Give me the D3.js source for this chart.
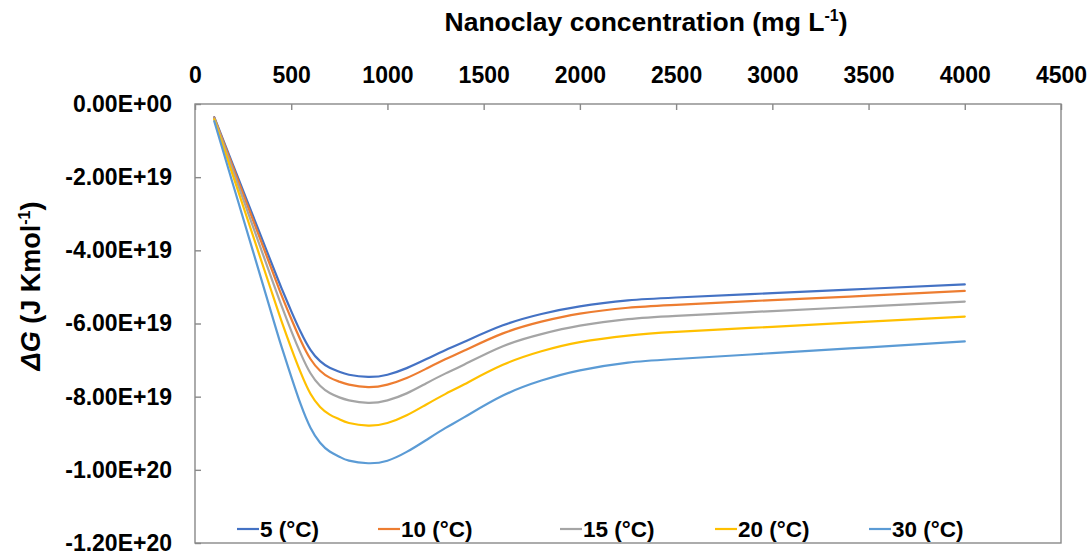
<!DOCTYPE html>
<html>
<head>
<meta charset="utf-8">
<script src="https://cdn.jsdelivr.net/npm/d3@7"></script>
<style>
  html, body { margin: 0; padding: 0; background: #fff; }
  svg text { font-family: "Liberation Sans", Arial, sans-serif; font-weight: bold; fill: #000; }
</style>
</head>
<body>
<svg id="chart" width="1091" height="554"></svg>
<script>
// Nanoclay concentration (mg/L) at which ΔG was evaluated
const concentration = [100, 200, 300, 400, 450, 500, 550, 600, 650, 700, 750, 800, 900, 1000, 1100, 1200, 1300, 1400, 1600, 1800, 2000, 2250, 2500, 3000, 3500, 4000];

// ΔG (J/kmol) for each temperature
const dG_5C  = [-0.36e19, -1.70e19, -3.04e19, -4.38e19, -5.04e19, -5.66e19, -6.24e19, -6.72e19, -7.03e19, -7.21e19, -7.32e19, -7.40e19, -7.46e19, -7.40e19, -7.22e19, -6.98e19, -6.73e19, -6.50e19, -6.05e19, -5.74e19, -5.53e19, -5.37e19, -5.29e19, -5.17e19, -5.05e19, -4.93e19];
const dG_10C = [-0.37e19, -1.76e19, -3.15e19, -4.54e19, -5.23e19, -5.87e19, -6.47e19, -6.97e19, -7.29e19, -7.48e19, -7.59e19, -7.67e19, -7.74e19, -7.67e19, -7.49e19, -7.24e19, -6.98e19, -6.74e19, -6.27e19, -5.95e19, -5.73e19, -5.57e19, -5.49e19, -5.36e19, -5.24e19, -5.11e19];
const dG_15C = [-0.39e19, -1.86e19, -3.33e19, -4.80e19, -5.52e19, -6.20e19, -6.83e19, -7.36e19, -7.70e19, -7.90e19, -8.02e19, -8.10e19, -8.17e19, -8.10e19, -7.91e19, -7.64e19, -7.37e19, -7.12e19, -6.62e19, -6.29e19, -6.06e19, -5.88e19, -5.79e19, -5.66e19, -5.53e19, -5.40e19];
const dG_20C = [-0.42e19, -2.00e19, -3.58e19, -5.16e19, -5.94e19, -6.67e19, -7.35e19, -7.92e19, -8.28e19, -8.49e19, -8.62e19, -8.72e19, -8.79e19, -8.72e19, -8.51e19, -8.22e19, -7.93e19, -7.66e19, -7.13e19, -6.76e19, -6.51e19, -6.33e19, -6.23e19, -6.09e19, -5.95e19, -5.81e19];
const dG_30C = [-0.47e19, -2.24e19, -4.00e19, -5.77e19, -6.64e19, -7.45e19, -8.22e19, -8.85e19, -9.26e19, -9.50e19, -9.64e19, -9.75e19, -9.82e19, -9.75e19, -9.51e19, -9.19e19, -8.86e19, -8.56e19, -7.97e19, -7.56e19, -7.28e19, -7.07e19, -6.97e19, -6.81e19, -6.65e19, -6.49e19];

const seriesNames = ["5 (°C)", "10 (°C)", "15 (°C)", "20 (°C)", "30 (°C)"];
const seriesValues = [dG_5C, dG_10C, dG_15C, dG_20C, dG_30C];
const seriesColors = ["#4472C4", "#ED7D31", "#A5A5A5", "#FFC000", "#5B9BD5"];

const xTickValues = [0, 500, 1000, 1500, 2000, 2500, 3000, 3500, 4000, 4500];
const yTickValues = [0, -2e19, -4e19, -6e19, -8e19, -1e20, -1.2e20];

// plot area
const plot = { left: 195, right: 1061, top: 104, bottom: 543 };
const axisColor = "#898989";
const tickFont = 23;

const svg = d3.select("#chart");

const x = d3.scaleLinear().domain([0, 4500]).range([plot.left, plot.right]);
const y = d3.scaleLinear().domain([-1.2e20, 0]).range([plot.bottom, plot.top]);

// spreadsheet-style scientific format, e.g. -2.00E+19
function sci(v) {
  if (v === 0) return "0.00E+00";
  const e = Math.floor(Math.log10(Math.abs(v)) + 1e-9);
  const m = v / Math.pow(10, e);
  return m.toFixed(2) + "E" + (e < 0 ? "-" : "+") + String(Math.abs(e)).padStart(2, "0");
}

// frame
svg.append("rect")
  .attr("x", plot.left).attr("y", plot.top)
  .attr("width", plot.right - plot.left).attr("height", plot.bottom - plot.top)
  .attr("fill", "none").attr("stroke", axisColor).attr("stroke-width", 1.4);

// top x axis, ticks pointing into the plot
const gx = svg.append("g")
  .attr("transform", `translate(0,${plot.top})`)
  .call(d3.axisTop(x).tickValues(xTickValues).tickFormat(d3.format("d"))
    .tickSizeInner(-6).tickSizeOuter(0).tickPadding(21));
gx.select(".domain").remove();
gx.selectAll(".tick line").attr("stroke", axisColor).attr("stroke-width", 1.4);
gx.selectAll(".tick text").attr("font-size", tickFont).attr("fill", "#000")
  .style("font-family", "'Liberation Sans', Arial, sans-serif").style("font-weight", "bold");

// left y axis, ticks pointing into the plot
const gy = svg.append("g")
  .attr("transform", `translate(${plot.left},0)`)
  .call(d3.axisLeft(y).tickValues(yTickValues).tickFormat(sci)
    .tickSizeInner(-6).tickSizeOuter(0).tickPadding(23));
gy.select(".domain").remove();
gy.selectAll(".tick line").attr("stroke", axisColor).attr("stroke-width", 1.4);
gy.selectAll(".tick text").attr("font-size", tickFont).attr("fill", "#000")
  .style("font-family", "'Liberation Sans', Arial, sans-serif").style("font-weight", "bold");

// smoothed curves
const line = d3.line()
  .x((d, i) => x(concentration[i]))
  .y(d => y(d))
  .curve(d3.curveNatural);

svg.append("g").selectAll("path")
  .data(seriesValues)
  .join("path")
  .attr("d", line)
  .attr("fill", "none")
  .attr("stroke", (d, i) => seriesColors[i])
  .attr("stroke-width", 2.2)
  .attr("stroke-linejoin", "round")
  .attr("stroke-linecap", "round");

// axis titles
const xTitle = svg.append("text")
  .attr("x", 646).attr("y", 31)
  .attr("text-anchor", "middle")
  .attr("font-size", 26.5);
xTitle.append("tspan").text("Nanoclay concentration (mg L");
xTitle.append("tspan").attr("font-size", 16).attr("dy", -10).text("-1");
xTitle.append("tspan").attr("dy", 10).text(")");

const yTitle = svg.append("text")
  .attr("transform", "translate(40,286) rotate(-90)")
  .attr("text-anchor", "middle")
  .attr("font-size", 27);
yTitle.append("tspan").attr("font-style", "italic").text("ΔG");
yTitle.append("tspan").text(" (J Kmol");
yTitle.append("tspan").attr("font-size", 16).attr("dy", -10).text("-1");
yTitle.append("tspan").attr("dy", 10).text(")");

// legend inside the bottom of the plot
const legendStarts = [237, 378, 560, 715, 869];
const legendY = 529;
const legend = svg.append("g").selectAll("g")
  .data(seriesNames)
  .join("g")
  .attr("transform", (d, i) => `translate(${legendStarts[i]},${legendY})`);
legend.append("line")
  .attr("x1", 0).attr("x2", 22).attr("y1", 0).attr("y2", 0)
  .attr("stroke", (d, i) => seriesColors[i]).attr("stroke-width", 2.2);
legend.append("text")
  .attr("x", 23).attr("y", 7.8)
  .attr("font-size", 22.5)
  .text(d => d);
</script>
</body>
</html>
